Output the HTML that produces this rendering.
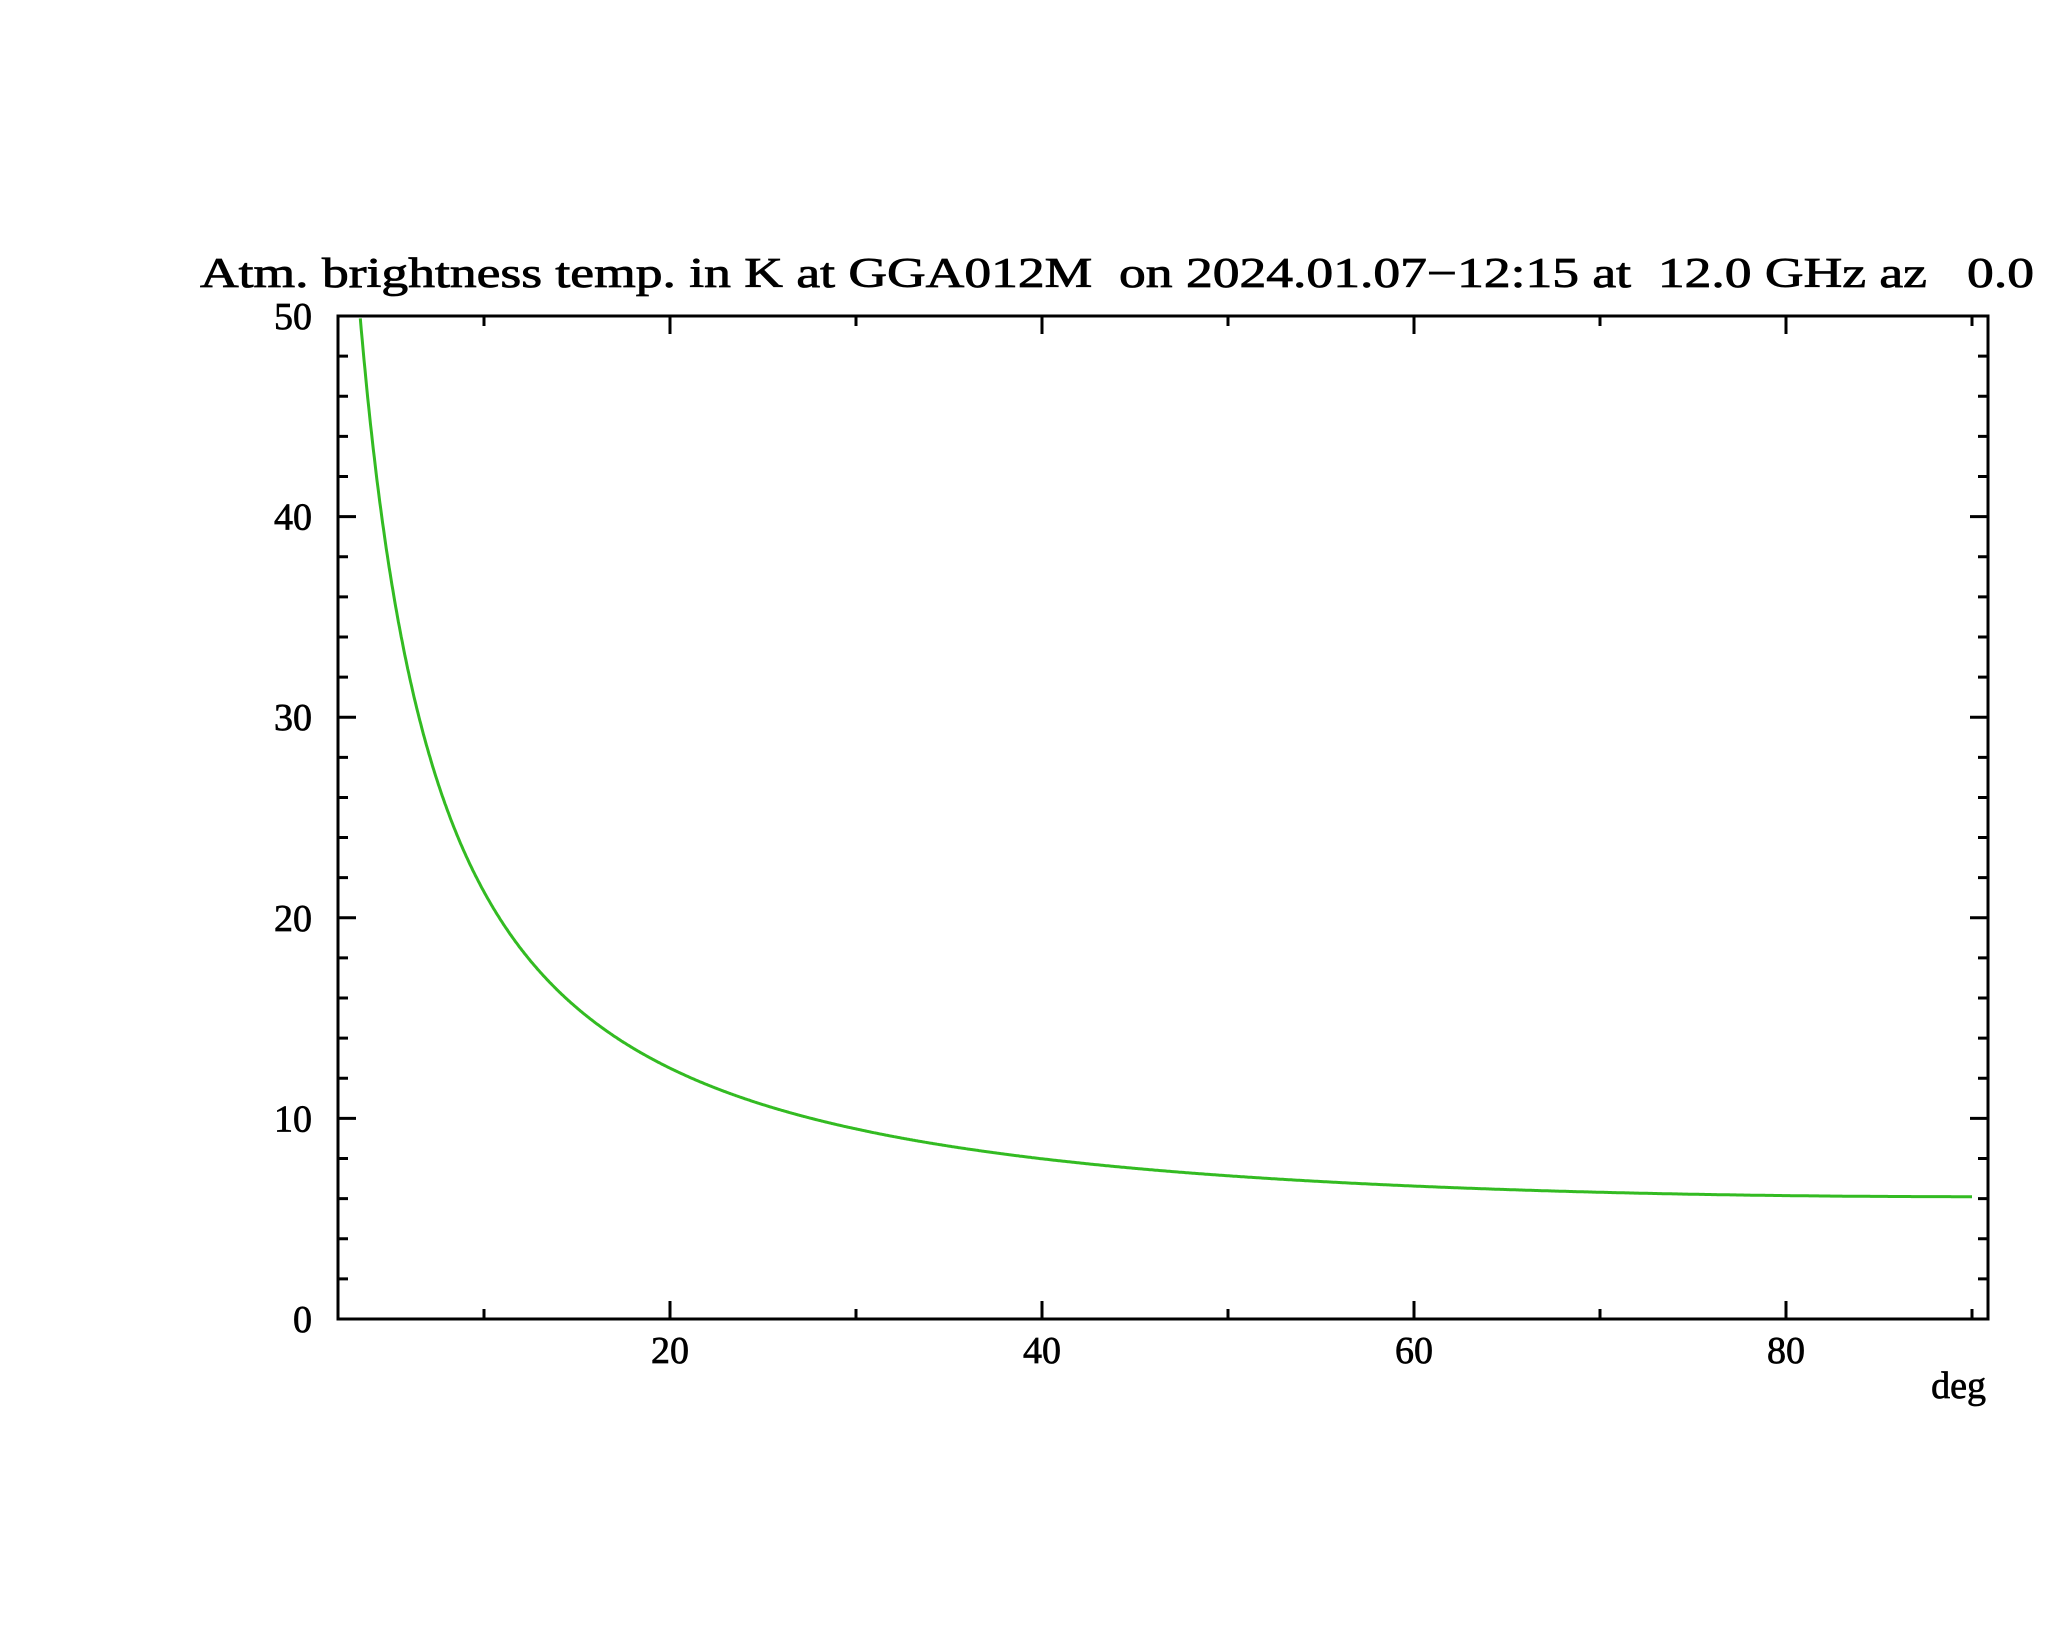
<!DOCTYPE html>
<html><head><style>html,body{margin:0;padding:0;background:#fff;}svg{display:block}</style></head>
<body>
<svg id="s" width="2048" height="1635" xmlns="http://www.w3.org/2000/svg" font-family="'Liberation Serif', serif">
<rect width="2048" height="1635" fill="#fff"/>
<text x="200" y="287" font-size="42" stroke="#000" stroke-width="0.8" textLength="1834" lengthAdjust="spacingAndGlyphs" xml:space="preserve">Atm. brightness temp. in K at GGA012M  on 2024.01.07−12:15 at  12.0 GHz az   0.0</text>
<g id="ax" stroke="#000" stroke-width="3" fill="none"></g>
<g id="lbl" font-size="38" fill="#000" stroke="#000" stroke-width="0.7"></g>
<text x="1986" y="1398" font-size="38" stroke="#000" stroke-width="0.7" text-anchor="end">deg</text>
<path id="cv" fill="none" stroke="#33bb22" stroke-width="3"/>
</svg>
<script>
var L=338,R=1988,T=316,B=1319;
function X(d){return 298+18.6*d;}
function Y(v){return B-(B-T)*v/50;}
var ax=document.getElementById('ax'),lb=document.getElementById('lbl');
var s='M'+L+' '+T+'H'+R+'V'+B+'H'+L+'Z';
for(var d=10;d<=90;d+=10){var x=X(d),l=(d%20==0)?18:10;s+='M'+x+' '+B+'v-'+l+'M'+x+' '+T+'v'+l;}
for(var v=2;v<50;v+=2){var y=Y(v),l=(v%10==0)?18:10;s+='M'+L+' '+y+'h'+l+'M'+R+' '+y+'h-'+l;}
var p=document.createElementNS('http://www.w3.org/2000/svg','path');p.setAttribute('d',s);ax.appendChild(p);
function t(x,y,a,str){var e=document.createElementNS('http://www.w3.org/2000/svg','text');e.setAttribute('x',x);e.setAttribute('y',y);e.setAttribute('text-anchor',a);e.textContent=str;lb.appendChild(e);}
for(var d=20;d<=80;d+=20)t(X(d),1363,'middle',''+d);
for(var v=0;v<=50;v+=10)t(312,Y(v)+13,'end',''+v);
var c='';var first=true;
for(var e=2.0;e<=90.001;e+=0.05){var T2=2.62+117.7*(1-Math.exp(-0.03/Math.sin(e*Math.PI/180)));if(T2>50)continue;c+=(first?'M':'L')+X(e).toFixed(1)+' '+Y(T2).toFixed(1);first=false;}
document.getElementById('cv').setAttribute('d',c);
</script>
</body></html>
